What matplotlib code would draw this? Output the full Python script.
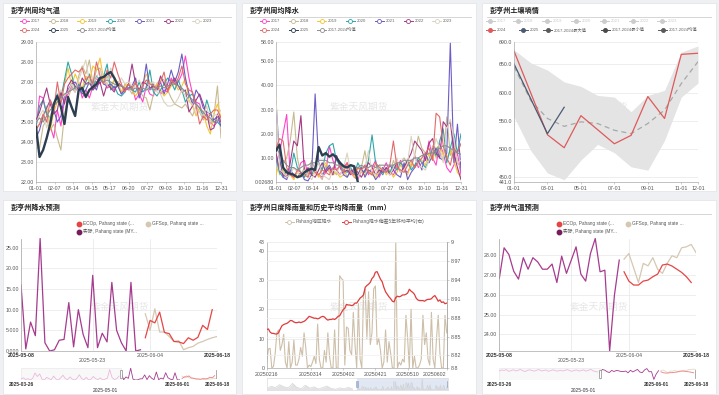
import numpy as np
import matplotlib.pyplot as plt
from matplotlib.patches import Rectangle

plt.rcParams['font.family'] = ['Liberation Sans', 'Noto Sans CJK SC']

W, H = 719, 395

# ---------------- panel 1: weekly mean temperature ----------------
week_labels = ['01-01', '02-07', '03-14', '04-15', '05-17', '06-20',
               '07-27', '09-03', '10-10', '11-16', '12-31']
temp_2017 = [24.6, 26.3, 26.2, 25.4, 24.8, 24.2, 25.6, 24.8, 26.1, 26.4,
             26.8, 26.5, 26.9, 26.2, 26.6, 26.2, 26.8, 27.2, 26.9, 27.3,
             26.7, 26.8, 26.6, 26.9, 26.4, 26.7, 26.6, 26.8, 26.1, 26.4,
             26.0, 26.8, 26.4, 26.3, 26.9, 26.4, 26.6, 26.5, 27.2, 26.9,
             27.0, 27.4, 28.3, 27.2, 26.4, 26.0, 25.9, 25.2, 25.4, 25.0,
             24.8, 25.0, 25.3]
temp_2018 = [23.7, 23.7, 24.8, 25.1, 24.6, 24.9, 24.2, 23.6, 25.4, 26.2,
             26.7, 26.5, 27.3, 27.8, 27.4, 28.1, 26.9, 27.6, 27.7, 26.9,
             27.3, 26.8, 27.1, 26.8, 26.5, 26.9, 26.7, 26.4, 27.0, 26.6,
             26.3, 26.2, 25.6, 26.4, 26.9, 27.2, 27.1, 26.6, 26.2, 25.9,
             25.8, 25.7, 25.9, 25.6, 25.3, 25.8, 25.5, 25.1, 25.3, 24.9,
             25.3, 26.8, 24.2]
temp_2019 = [24.7, 24.9, 25.1, 25.8, 24.6, 25.5, 26.0, 26.3, 26.9, 27.7,
             26.8, 27.4, 27.0, 26.7, 27.3, 27.0, 27.8, 27.6, 28.2, 27.1,
             26.9, 26.7, 27.1, 27.0, 26.5, 26.8, 26.9, 26.6, 26.3, 26.6,
             26.9, 27.4, 27.0, 26.7, 26.9, 26.6, 26.3, 26.5, 26.8, 26.9,
             26.6, 26.8, 27.2, 26.1, 25.8, 25.3, 25.7, 25.5, 24.8, 24.4,
             25.4, 25.9, 25.2]
temp_2020 = [24.8, 25.8, 26.1, 25.4, 25.2, 25.8, 26.4, 26.2, 27.1, 28.0,
             27.4, 26.6, 26.9, 26.5, 27.0, 27.4, 26.6, 27.3, 27.1, 27.3,
             27.9, 26.6, 26.8, 26.4, 26.3, 26.5, 26.9, 26.6, 26.5, 27.0,
             26.5, 26.7, 27.6, 26.5, 26.3, 26.6, 26.9, 27.2, 27.0, 26.6,
             27.1, 26.6, 26.0, 26.3, 26.4, 25.9, 25.7, 25.3, 26.1, 25.5,
             25.0, 25.0, 24.8]
temp_2021 = [24.2, 24.6, 25.3, 25.7, 26.1, 25.6, 25.0, 25.3, 26.3, 26.6,
             26.9, 27.0, 26.7, 26.4, 26.6, 27.0, 26.9, 26.6, 27.2, 26.9,
             26.8, 26.9, 26.7, 26.8, 26.4, 26.6, 26.7, 26.8, 27.2, 26.2,
             26.7, 27.9, 26.6, 26.9, 26.6, 27.0, 26.4, 26.9, 27.6, 27.0,
             27.5, 28.4, 27.2, 26.4, 25.9, 26.6, 26.3, 25.7, 25.5, 25.4,
             25.1, 25.3, 24.8]
temp_2022 = [25.1, 25.5, 26.1, 26.7, 25.9, 25.4, 25.6, 26.5, 25.9, 26.8,
             27.1, 26.8, 26.6, 27.2, 26.9, 27.0, 26.6, 26.8, 27.0, 26.3,
             26.9, 26.7, 26.5, 27.0, 26.8, 26.6, 26.9, 27.9, 26.9, 26.6,
             27.0, 26.9, 26.7, 26.8, 26.6, 27.3, 26.9, 26.6, 26.9, 27.2,
             26.8, 26.5, 26.6, 25.5, 25.8, 26.1, 26.4, 25.9, 25.4, 24.6,
             24.7, 25.4, 25.0]
temp_2023 = [25.0, 25.3, 25.6, 24.7, 25.3, 25.8, 26.2, 26.6, 26.3, 26.5,
             26.9, 26.5, 27.1, 27.6, 28.1, 27.0, 26.9, 27.2, 27.6, 27.3,
             26.8, 27.7, 27.3, 26.9, 27.2, 26.9, 27.0, 26.8, 26.8, 27.1,
             26.7, 26.6, 26.9, 27.0, 26.5, 26.4, 26.0, 25.8, 25.8, 25.9,
             26.2, 26.6, 26.3, 26.0, 25.9, 25.4, 25.5, 25.3, 25.8, 25.0,
             25.4, 25.3, 25.6]
temp_2024 = [24.6, 24.9, 25.4, 25.0, 26.1, 25.6, 27.0, 25.9, 26.9, 27.2,
             27.4, 27.6, 27.5, 27.7, 27.1, 27.3, 26.9, 28.0, 27.3, 26.9,
             27.6, 27.2, 28.0, 27.4, 26.9, 26.5, 26.9, 26.7, 27.0, 26.4,
             26.8, 27.1, 26.9, 26.8, 26.7, 27.0, 27.5, 26.5, 27.1, 26.9,
             27.2, 27.8, 26.9, 26.6, 26.5, 25.8, 24.9, 25.3, 25.1, 25.4,
             25.6, 25.6, 25.2]
temp_2025 = [24.75, 23.25, 23.6, 24.2, 24.9, 25.9, 26.3, 25.75, 24.9, 26.25,
             25.75, 25.3, 26.6, 26.7, 26.25, 26.6, 26.75, 26.9, 27.2, 27.25,
             27.4, 27.5, 27.2, 26.85]
temp_mean = [25.0, 25.2, 25.0, 25.3, 25.6, 25.8, 26.0, 26.2, 26.4, 26.5,
             26.6, 26.7, 26.8, 26.7, 26.9, 26.9, 27.0, 27.0, 27.1, 27.0,
             27.1, 27.0, 26.9, 26.8, 26.8, 26.7, 26.7, 26.6, 26.7, 26.6,
             26.7, 26.6, 26.7, 26.6, 26.7, 26.8, 26.7, 26.8, 26.9, 26.9,
             26.8, 26.7, 26.5, 26.3, 26.1, 25.9, 25.7, 25.5, 25.3, 25.2,
             25.0, 25.1, 25.1]

# ---------------- panel 2: weekly mean rainfall ----------------
rain_2017 = [8, 12, 20, 28, 3, 2, 4, 8, 9, 3,
             6, 5, 3, 2, 4, 15, 9, 5, 3, 6,
             8, 4, 2, 1, 5, 7, 3, 6, 9, 2,
             5, 8, 4, 3, 6, 9, 5, 4, 7, 11,
             6, 8, 9, 17, 10, 7, 16, 12, 6, 4,
             7, 12, 3]
rain_2018 = [12, 3, 8, 10, 17, 29, 10, 3, 6, 2,
             9, 5, 3, 1, 7, 4, 5, 3, 8, 6,
             2, 4, 5, 3, 6, 13, 4, 3, 5, 7,
             4, 6, 3, 9, 5, 8, 10, 7, 6, 11,
             19, 14, 12, 8, 15, 10, 13, 9, 27, 11,
             16, 8, 6]
rain_2019 = [3, 8, 5, 2, 3, 1, 4, 3, 2, 5,
             3, 4, 2, 6, 8, 5, 3, 4, 2, 3,
             5, 4, 2, 6, 4, 3, 5, 3, 2, 4,
             6, 3, 5, 2, 4, 7, 5, 3, 8, 6,
             10, 9, 7, 12, 9, 14, 15, 11, 10, 13,
             9, 4, 2]
rain_2020 = [10, 4, 2, 5, 3, 12, 6, 4, 2, 5,
             3, 6, 8, 5, 12, 15, 16, 9, 7, 5,
             4, 6, 3, 8, 5, 4, 9, 19.5, 8, 5,
             3, 6, 4, 7, 5, 8, 6, 9, 5, 7,
             10, 8, 6, 9, 14, 11, 17, 22, 8, 14,
             20, 12, 20]
rain_2021 = [33.5, 10, 2, 1, 5, 3, 2, 4, 1, 0.5,
             3, 36.5, 8, 3, 5, 7, 4, 11, 6, 3,
             2, 5, 4, 3, 6, 2, 5, 4, 1, 3,
             6, 4, 7, 5, 3, 2, 8, 1, 4, 6,
             9, 5, 12, 8, 11, 14, 10, 9, 12, 57.5,
             8, 24, 5]
rain_2022 = [12, 5, 3, 2, 8, 17, 15, 27.5, 4, 6,
             3, 2, 5, 8, 4, 6, 3, 11, 7, 4,
             5, 3, 6, 4, 2, 5, 8, 6, 3, 5,
             4, 6, 3, 5, 8, 4, 6, 9, 12, 17,
             15, 13, 9, 16, 18, 12, 10, 25, 23, 25,
             12, 6, 1]
rain_2023 = [35, 5, 4, 2, 3, 6, 4, 2, 5, 3,
             1, 4, 8, 3, 2, 1, 5, 4, 3, 6,
             12, 4, 3, 2, 5, 6, 13, 4, 3, 7,
             5, 4, 3, 6, 10, 4, 5, 8, 19, 10,
             7, 6, 5, 9, 12, 18, 14, 8, 22, 26,
             18, 8, 9]
rain_2024 = [14, 18, 17, 6, 3, 2, 5, 4, 3, 2,
             6, 4, 3, 5, 4, 3, 6, 5, 7, 4,
             8, 4, 3, 6, 5, 7, 4, 3, 8, 6,
             5, 4, 7, 17, 6, 5, 4, 7, 9, 6,
             8, 10, 12, 14, 9, 28.5, 27, 15, 10, 7,
             14, 12, 16]
rain_2025 = [13, 15.5, 6, 4, 3.5, 3, 2, 2.5, 4, 5,
             5.5, 5, 14.5, 11, 12, 10.5, 11.5, 10, 8, 6.5,
             6, 7, 6.5, 0]
rain_mean = [14, 12, 9, 7, 6, 6, 5, 6, 7, 7,
             8, 8, 9, 9, 9, 8, 8, 7, 7, 7,
             6, 7, 6, 6, 7, 6, 6, 7, 6, 7,
             7, 7, 7, 7, 8, 8, 9, 9, 9, 10,
             10, 11, 11, 12, 12, 13, 14, 15, 15, 14,
             13, 12, 11.5]

years = ['2017', '2018', '2019', '2020', '2021', '2022', '2023', '2024', '2025']
year_colors = ['#ff45c8', '#c8b98f', '#f7c530', '#2ea6a8', '#6c5cc6',
               '#a33b84', '#dcd3c0', '#e26a6a', '#2c3e50']

# ---------------- panel 3: soil moisture (monthly) ----------------
month_labels = ['01-01', '02-01', '03-01', '04-01', '05-01', '06-01',
                '07-01', '08-01', '09-01', '10-01', '11-01', '12-01']
soil_max = [676, 653, 640, 619, 611, 595, 592, 566, 595, 604, 672, 683]
soil_min = [557, 497, 457, 445, 480, 508, 493, 468, 462, 515, 592, 617]
soil_mean = [646, 586, 554, 540, 548, 545, 533, 527, 545, 569, 616, 655]
soil_2024 = [674, np.nan, 525, 502, 559, 534, 509, 524, 593, 554, 668, 670]
soil_2025 = [651, np.nan, 527, 574]

# ---------------- panel 4 / 6: forecasts (daily from 2025-05-08) ----------------
actual_rain = [16, 0.5, 7, 3.7, 27.2, 2, 0, 0.3, 2.6, 2.8, 11.7, 1, 10, 4, 0.8,
               18.3, 0.8, 4.3, 2.2, 16.6, 5, 2, 0, 16.6, 0, 0.3]
ecop_rain = [3.2, 7.4, 6.8, 9.4, 4.5, 4.2, 2.3, 2.2, 1.8, 3.2, 2.6, 3.3, 6.2, 5.2, 10]
gfs_rain = [9, 5, 10.2, 4.6, 4.6, 3.5, 2.3, 2.5, 0.3, 0.8, 1.1, 1.9, 2.3, 2.8, 3.2, 3.5]
early_rain = [2, 5, 1, 3, 0, 4, 16, 8, 14, 2, 0, 6, 3, 1, 9, 2, 0, 5, 11, 3, 1, 7,
              2, 0, 4, 12, 3, 1, 6, 0, 2, 8, 3, 1, 5, 0, 2, 4, 24, 6, 1, 3, 9]

actual_temp = [26.82, 28.37, 28.03, 27.19, 26.79, 27.87, 27.29, 27.87, 27.66, 27.29,
               27.29, 27.55, 26.62, 27.95, 27.08, 27.75, 28.42, 27.04, 26.69, 28.08,
               28.84, 27.16, 27.24, 23.16, 25.98, 27.75]
ecop_temp = [27.16, 26.69, 26.49, 26.49, 26.69, 26.74, 26.91, 27.04, 27.5, 27.55,
             27.45, 27.29, 27.13, 26.91, 26.62]
gfs_temp = [27.8, 28.08, 27.36, 26.62, 27.58, 27.46, 27.87, 27.29, 27.08, 27.58,
            27.97, 27.87, 28.37, 28.42, 28.54, 28.13]
early_temp = [27.6, 28.1, 27.9, 28.3, 27.4, 27.8, 28.2, 27.6, 27.9, 28.4, 27.7,
              27.3, 27.9, 28.2, 27.8, 27.5, 28.0, 28.3, 27.6, 27.9, 28.1, 27.4,
              27.8, 28.2, 27.7, 27.5, 28.0, 27.6, 27.9, 28.3, 27.8, 27.4, 27.9,
              28.1, 27.6, 27.8, 28.2, 27.5, 27.9, 28.4, 27.7, 27.3, 27.1]
fc_ticks = ['2025-05-08', '2025-05-23', '2025-06-04', '2025-06-18']
fc_tick_days = [0, 15, 27, 41]
slider_ticks = ['2025-03-26', '2025-05-01', '2025-06-01', '2025-06-18']
slider_tick_days = [-43, -7, 24, 41]

# ---------------- panel 5: daily Pahang rainfall ----------------
pahang_rain = [2, 6.5, 6.7, 0, 0.5, 5, 12, 13, 6, 8,
               11.5, 2, 0, 9, 0, 2, 9.5, 1, 1, 3,
               7, 4, 12, 7, 0, 1, 0.5, 2, 4, 1.5,
               15, 3, 0, 0, 6, 2, 12, 4, 0, 0,
               13, 0, 0, 31.5, 30.5, 30, 1, 14, 13.5, 6,
               4.5, 19, 8, 0, 22, 3, 0, 25,
               27, 10, 26, 8, 12, 27, 28, 8, 10, 6,
               0, 2, 13, 2, 9, 5, 0, 0, 43, 0,
               2, 1, 3, 2, 18, 10, 0, 20, 0, 4,
               0, 0, 1, 3, 18, 8, 12, 3, 1, 19,
               3, 0, 10, 18, 5, 0, 0, 18, 12]
pahang_dev = [8.861, 8.862, 8.857, 8.855, 8.855, 8.854, 8.854, 8.856, 8.862, 8.867,
              8.869, 8.870, 8.871, 8.873, 8.8755, 8.875, 8.873, 8.872, 8.872, 8.873,
              8.872, 8.873, 8.874, 8.876, 8.879, 8.882, 8.881, 8.880, 8.879, 8.879,
              8.878, 8.879, 8.881, 8.882, 8.881, 8.878, 8.876, 8.877, 8.877, 8.878,
              8.877, 8.879, 8.882, 8.883, 8.888, 8.8925, 8.895, 8.901, 8.900, 8.900,
              8.899, 8.900, 8.903, 8.903, 8.907, 8.911, 8.913, 8.916, 8.928, 8.931,
              8.933, 8.936, 8.942, 8.945, 8.952, 8.953, 8.947, 8.941, 8.937, 8.928,
              8.921, 8.917, 8.913, 8.910, 8.906, 8.905, 8.912, 8.914, 8.913, 8.914,
              8.916, 8.916, 8.917, 8.919, 8.925, 8.922, 8.920, 8.917, 8.911, 8.908,
              8.907, 8.907, 8.907, 8.906, 8.908, 8.909, 8.909, 8.910, 8.913, 8.915,
              8.911, 8.906, 8.908, 8.904, 8.905, 8.902, 8.903]
pahang_ticks = ['20250216', '20250314', '20250402', '20250421', '20250510', '20250602']
pahang_tick_idx = [0, 26, 45, 64, 83, 106]
rain_prior = [6, 14, 9, 20, 12, 8, 25, 10, 5, 18, 7, 12, 4, 9, 15, 6, 3, 8, 5, 10, 4]

TICK = '#555555'


def rect(x0, y0, x1, y1):
    return [x0 / W, 1 - y1 / H, (x1 - x0) / W, (y1 - y0) / H]


def style_axis(ax):
    for s in ['top', 'right']:
        ax.spines[s].set_visible(False)
    for s in ['left', 'bottom']:
        ax.spines[s].set_color('#a8a8a8')
        ax.spines[s].set_linewidth(0.5)
    ax.set_facecolor('none')
    ax.tick_params(labelsize=3.8, labelcolor=TICK, color='#a8a8a8',
                   width=0.4, pad=1.5)
    ax.tick_params(axis='y', length=0)
    ax.tick_params(axis='x', length=1.5)
    ax.grid(axis='y', color='#e8e8e8', lw=0.5)
    ax.set_axisbelow(True)


fig = plt.figure(figsize=(W / 100, H / 100), dpi=100, facecolor='#eef0f3')
bg = fig.add_axes([0, 0, 1, 1], zorder=0)
bg.set_xlim(0, W)
bg.set_ylim(H, 0)
bg.axis('off')


def leg(x, y, color, label, filled=False, line=True, tcolor='#666666', size=3.1):
    if line:
        bg.plot([x - 4.5, x + 4.5], [y, y], color=color, lw=0.7)
    bg.plot(x, y, 'o', ms=2.9, mfc=color if filled else 'white', mec=color, mew=0.6)
    bg.text(x + 6.5, y, label, fontsize=size, color=tcolor, va='center', ha='left')


panels = [(3, 3, 236, 191, '彭亨州周均气温'),
          (242, 3, 476, 191, '彭亨州周均降水'),
          (482, 3, 716, 191, '彭亨州土壤墒情'),
          (3, 200, 236, 394, '彭亨州降水预测'),
          (242, 200, 476, 394, '彭亨州日度降雨量和历史平均降雨量（mm）'),
          (482, 200, 716, 394, '彭亨州气温预测')]
for x0, y0, x1, y1, title in panels:
    bg.add_patch(Rectangle((x0, y0), x1 - x0, y1 - y0, facecolor='white',
                           edgecolor='#e2e2e2', lw=0.5))
    bg.text(x0 + 8, y0 + 7.5, title, fontsize=5.1, fontweight='bold',
            color='#1e1e1e', va='center', ha='left', family=['Noto Sans CJK SC'])
    bg.plot([x0 + 5, x1 - 5], [y0 + 13.5, y0 + 13.5], color='#cfcfcf', lw=0.6)
    bg.text((x0 + x1) / 2, (y0 + y1) / 2 + 10, '紫金天风期货', fontsize=7,
            color='#e6e6e6', ha='center', va='center', family=['Noto Sans CJK SC'])

# ---- panel 1 & 2 ----
temps = [temp_2017, temp_2018, temp_2019, temp_2020, temp_2021, temp_2022,
         temp_2023, temp_2024, temp_2025]
rains = [rain_2017, rain_2018, rain_2019, rain_2020, rain_2021, rain_2022,
         rain_2023, rain_2024, rain_2025]
for k, (series, mean, box, xoff) in enumerate([(temps, temp_mean, (36, 42, 221, 182), 0),
                                               (rains, rain_mean, (276, 42, 461, 182), 240)]):
    ax = fig.add_axes(rect(*box), zorder=2)
    style_axis(ax)
    for s, c, y in zip(series, year_colors, years):
        lw = 1.7 if y == '2025' else 0.8
        ax.plot(np.arange(len(s)), s, color=c, lw=lw, zorder=5 if y == '2025' else 3)
    ax.plot(np.arange(len(mean)), mean, color='#8e8e8e', lw=0.8, zorder=4)
    ax.set_xlim(0, 52)
    ax.set_xticks(np.linspace(0, 52, len(week_labels)))
    ax.set_xticklabels(week_labels)
    if k == 0:
        ax.set_ylim(22, 29)
        yt = np.arange(22, 30)
        ax.set_yticks(yt)
        ax.set_yticklabels(['%.2f' % v for v in yt])
    else:
        ax.set_ylim(0.0268, 58)
        yt = [0.0268, 10, 20, 30, 40, 50, 58]
        ax.set_yticks(yt)
        ax.set_yticklabels(['0.02680'] + ['%.2f' % v for v in yt[1:]])
    pos = [24, 53.3, 81.7, 110, 139.3, 168.3, 196.7]
    for i in range(7):
        leg(pos[i] + xoff, 20.7, year_colors[i], years[i])
    leg(24 + xoff, 30, year_colors[7], '2024')
    leg(53.3 + xoff, 30, year_colors[8], '2025')
    leg(81.7 + xoff, 30, '#8e8e8e', '2017-2024均值')

# ---- panel 3 ----
ax3 = fig.add_axes(rect(514, 42, 698, 182), zorder=2)
style_axis(ax3)
m = np.arange(len(month_labels))
ax3.fill_between(m, soil_min, soil_max, color='#e4e4e4', lw=0)
ax3.plot(m, soil_mean, color='#a8a8a8', lw=0.9, dashes=(4, 3))
s24 = np.array(soil_2024, dtype=float)
ok = ~np.isnan(s24)
ax3.plot(m[ok], s24[ok], color='#df5a5a', lw=0.9)
s25 = np.array(soil_2025, dtype=float)
m25 = np.arange(len(s25))
ok = ~np.isnan(s25)
ax3.plot(m25[ok], s25[ok], color='#4a5b72', lw=0.9)
ax3.set_xlim(0, 11)
ax3.set_ylim(441, 690)
ax3.set_xticks([0, 2, 4, 6, 8, 10, 11])
ax3.set_xticklabels([month_labels[i] for i in [0, 2, 4, 6, 8, 10, 11]])
yt = [441, 450, 500, 550, 600, 650, 690]
ax3.set_yticks(yt)
ax3.set_yticklabels(['%.1f' % v for v in yt])
pos = [490, 517.7, 546.7, 575.7, 604, 633, 661.7]
for i in range(7):
    leg(pos[i], 20.7, '#cccccc', years[i], filled=True, tcolor='#cccccc')
leg(490, 30, '#df5a5a', '2024', filled=True)
leg(523, 30, '#4a5b72', '2025', filled=True)
leg(547.7, 30, '#5a5a5a', '2017-2024最大值', filled=True)
leg(605, 30, '#4a4a4a', '2017-2024最小值', filled=True)
leg(662.7, 30, '#5a5a5a', '2017-2024均值', filled=True)

# ---- panel 4 & 6: forecasts ----
act_c, ec_c, gfs_c = '#a63b8f', '#e64545', '#d6c7b3'
for actual, ecop, gfs, early, xoff, is_temp in [
        (actual_rain, ecop_rain, gfs_rain, early_rain, 0, False),
        (actual_temp, ecop_temp, gfs_temp, early_temp, 480, True)]:
    x0 = 21 if not is_temp else 499.3
    x1 = 217 if not is_temp else 696
    ax = fig.add_axes(rect(x0, 238.5, x1, 351), zorder=2)
    style_axis(ax)
    ax.grid(axis='x', color='#e6e6e6', lw=0.5)
    n = len(actual)
    ax.plot(np.arange(n), actual, color=act_c, lw=0.9)
    ax.plot(np.arange(len(gfs)) + n, gfs, color=gfs_c, lw=0.9)
    ax.plot(np.arange(len(ecop)) + n, ecop, color=ec_c, lw=0.9)
    ax.set_xlim(0, 41)
    ax.set_xticks(fc_tick_days)
    ax.set_xticklabels(fc_ticks)
    ax.tick_params(axis='x', length=0)
    for j, t in enumerate(ax.xaxis.get_major_ticks()):
        if j == 1:
            t.set_pad(5)
        if j in (0, 3):
            t.label1.set_fontweight('bold')
            t.label1.set_color('#333333')
    if is_temp:
        ax.set_ylim(min(actual), max(actual))
        yt = [24, 25, 26, 27, 28]
        ax.set_yticks(yt)
        ax.set_yticklabels(['%.2f' % v for v in yt])
    else:
        ax.set_ylim(0, max(actual))
        yt = [0, 5, 10, 15, 20, 25]
        ax.set_yticks(yt)
        ax.set_yticklabels(['0.000', '5.000', '10.00', '15.00', '20.00', '25.00'])

    lx = 79 + xoff
    bg.plot(lx, 223.7, 'o', ms=3.2, color=ec_c)
    bg.text(lx + 4, 223.7, 'ECOp, Pahang state (...', fontsize=3.4, color='#555555', va='center')
    bg.plot(lx + 69, 223.7, 'o', ms=3.2, color=gfs_c)
    bg.text(lx + 73, 223.7, 'GFSop, Pahang state ...', fontsize=3.4, color='#555555', va='center')
    bg.plot(lx, 231.7, 'o', ms=3.2, color='#7a1a5e')
    bg.text(lx + 4, 231.7, '实际, Pahang state (MY...', fontsize=3.4, color='#555555', va='center')

    sl = fig.add_axes(rect(x0, 368, x1, 380), zorder=2)
    sl.set_facecolor('none')
    for s in sl.spines.values():
        s.set_visible(False)
    ne = len(early)
    sl.plot(np.arange(-ne, 0), early, color='#ecb9dc', lw=0.6)
    sl.plot(np.arange(n), actual, color=act_c, lw=0.6)
    sl.plot(np.arange(len(gfs)) + n, gfs, color='#e2d9cc', lw=0.6)
    sl.plot(np.arange(len(ecop)) + n, ecop, color='#ef7d7d', lw=0.6)
    lo = min(early + actual) - (0.3 if is_temp else 0)
    hi = max(early + actual) + 0.3
    sl.set_xlim(-ne, 41)
    sl.set_ylim(lo, hi)
    sl.add_patch(Rectangle((-ne, lo), ne, hi - lo, facecolor='#d0d0d0', alpha=0.15,
                           edgecolor='#9a9a9a', lw=0.6))
    for hx in (0, 41):
        sl.add_patch(Rectangle((hx - 0.4, lo + (hi - lo) * 0.2), 0.8, (hi - lo) * 0.6,
                               facecolor='white', edgecolor='#8a8a8a', lw=0.5, zorder=5))
    sl.set_xticks(slider_tick_days)
    sl.set_xticklabels(slider_ticks)
    sl.set_yticks([])
    sl.tick_params(axis='x', length=0, labelsize=3.5, labelcolor='#333333', pad=1.5)
    for j, t in enumerate(sl.xaxis.get_major_ticks()):
        if j == 1:
            t.set_pad(5.5)
        else:
            t.label1.set_fontweight('bold')

# ---- panel 5 ----
ax5 = fig.add_axes(rect(266.7, 242, 446.7, 368), zorder=2)
style_axis(ax5)
ax5.spines['right'].set_visible(True)
ax5.spines['right'].set_color('#a8a8a8')
ax5.spines['right'].set_linewidth(0.5)
idx = np.arange(len(pahang_rain))
ax5.plot(idx, pahang_rain, color='#cdbfa9', lw=0.8)
ax5.set_xlim(0, len(pahang_rain) - 1)
ax5.set_ylim(0, 43)
ax5.set_yticks([0, 10, 20, 30, 40, 43])
ax5.set_yticklabels(['0', '10', '20', '30', '40', '43'])
ax5.set_xticks(pahang_tick_idx)
ax5.set_xticklabels(pahang_ticks)
ax5.get_xticklabels()[-1].set_ha('right')
ax5r = ax5.twinx()
ax5r.set_facecolor('none')
for s in ['top', 'left', 'bottom']:
    ax5r.spines[s].set_visible(False)
ax5r.spines['right'].set_color('#a8a8a8')
ax5r.spines['right'].set_linewidth(0.5)
ax5r.plot(idx, pahang_dev, color='#e03b3b', lw=0.9)
ax5r.set_ylim(8.8, 9.0)
rt = [8.8, 8.82, 8.85, 8.88, 8.91, 8.94, 8.97, 9.0]
ax5r.set_yticks(rt)
ax5r.set_yticklabels(['8.8', '8.82', '8.85', '8.88', '8.91', '8.94', '8.97', '9'])
ax5r.tick_params(labelsize=3.8, labelcolor=TICK, length=1.5, width=0.4,
                 color='#a8a8a8', pad=1.5)
ax5r.grid(axis='y', color='#f0f0f0', lw=0.5)

bg.plot([284.5, 293.5], [221.7, 221.7], color='#cdbfa9', lw=0.7)
bg.plot(289, 221.7, 'o', ms=2.8, mfc='white', mec='#cdbfa9', mew=0.6)
bg.text(295.5, 221.7, 'Pahang地区降水', fontsize=3.5, color='#666666', va='center')
bg.plot([341.5, 350.5], [221.7, 221.7], color='#e03b3b', lw=0.7)
bg.plot(346, 221.7, 'o', ms=2.8, mfc='white', mec='#e03b3b', mew=0.6)
bg.text(352.5, 221.7, 'Pahang降水偏差5年移动平均(右)', fontsize=3.5, color='#666666',
        va='center')

sl5 = fig.add_axes(rect(266.7, 378, 448, 390), zorder=2)
sl5.set_facecolor('none')
for s in sl5.spines.values():
    s.set_color('#dcdcdc')
    s.set_linewidth(0.5)
px = np.arange(len(rain_prior)) * 5 - 5 * len(rain_prior)
sl5.fill_between(px, 0, rain_prior, color='#e3e3e3', lw=0)
sl5.plot(px, rain_prior, color='#cfcfcf', lw=0.4)
sl5.fill_between(idx, 0, pahang_rain, color='#e3e3e3', lw=0)
sl5.plot(idx, pahang_rain, color='#cfcfcf', lw=0.4)
sl5.set_xlim(px[0], idx[-1])
sl5.set_ylim(0, 45)
sl5.axvspan(0, idx[-1], color='#c9d5ea', alpha=0.55, lw=0)
for hx in (0, idx[-1]):
    sl5.add_patch(Rectangle((hx - 1.2, 12), 2.4, 22, facecolor='#a9bbd9',
                            edgecolor='#8fa3c6', lw=0.4, zorder=5))
sl5.set_xticks([])
sl5.set_yticks([])

fig.savefig('out.png', dpi=100, facecolor=fig.get_facecolor())
